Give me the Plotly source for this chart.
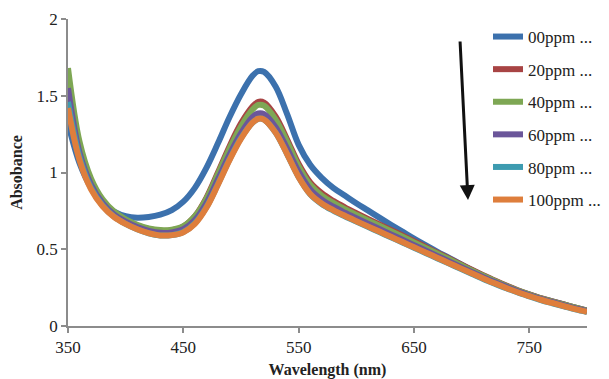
import plotly.graph_objects as go

wavelength = [350,360,370,380,390,400,410,420,430,440,450,460,470,480,490,500,510,515,520,530,540,550,560,570,580,590,600,610,620,630,640,650,660,670,680,690,700,710,720,730,740,750,760,770,780,790,800]

ppm00 = [1.32,1.06,0.90,0.80,0.745,0.715,0.705,0.71,0.725,0.755,0.81,0.90,1.03,1.19,1.36,1.51,1.63,1.66,1.655,1.56,1.38,1.18,1.05,0.965,0.90,0.85,0.80,0.753,0.706,0.66,0.615,0.57,0.527,0.485,0.445,0.405,0.365,0.328,0.293,0.26,0.23,0.205,0.18,0.16,0.14,0.12,0.10]
ppm20 = [1.60,1.16,0.94,0.81,0.735,0.69,0.655,0.632,0.62,0.624,0.648,0.715,0.835,1.0,1.17,1.32,1.43,1.46,1.455,1.365,1.215,1.055,0.935,0.865,0.815,0.773,0.735,0.698,0.662,0.626,0.59,0.553,0.515,0.478,0.441,0.404,0.367,0.331,0.296,0.263,0.233,0.206,0.181,0.16,0.14,0.12,0.10]
ppm40 = [1.68,1.20,0.96,0.825,0.745,0.695,0.66,0.636,0.625,0.628,0.65,0.715,0.83,0.99,1.155,1.30,1.41,1.44,1.435,1.345,1.20,1.04,0.92,0.85,0.802,0.761,0.724,0.688,0.653,0.618,0.582,0.545,0.508,0.472,0.436,0.399,0.362,0.327,0.293,0.261,0.231,0.205,0.18,0.159,0.139,0.119,0.10]
ppm60 = [1.55,1.13,0.92,0.80,0.725,0.68,0.645,0.62,0.607,0.61,0.63,0.69,0.80,0.955,1.115,1.255,1.36,1.385,1.38,1.295,1.155,1.005,0.89,0.823,0.777,0.738,0.702,0.667,0.632,0.597,0.562,0.527,0.492,0.457,0.422,0.387,0.352,0.318,0.286,0.255,0.226,0.2,0.176,0.155,0.135,0.115,0.097]
ppm80 = [1.46,1.10,0.90,0.785,0.712,0.665,0.63,0.604,0.59,0.592,0.612,0.67,0.775,0.925,1.085,1.225,1.325,1.35,1.345,1.26,1.12,0.97,0.858,0.795,0.752,0.715,0.68,0.646,0.612,0.578,0.544,0.51,0.476,0.442,0.408,0.374,0.34,0.307,0.276,0.246,0.218,0.193,0.169,0.148,0.128,0.108,0.091]
ppm100 = [1.42,1.08,0.89,0.78,0.71,0.665,0.63,0.605,0.59,0.592,0.61,0.665,0.77,0.92,1.08,1.22,1.325,1.35,1.345,1.26,1.12,0.97,0.86,0.798,0.755,0.718,0.683,0.649,0.615,0.581,0.547,0.513,0.479,0.445,0.411,0.377,0.343,0.31,0.278,0.248,0.22,0.195,0.171,0.15,0.13,0.11,0.093]

series_names = ["00ppm ...", "20ppm ...", "40ppm ...", "60ppm ...", "80ppm ...", "100ppm ..."]
series_values = [ppm00, ppm20, ppm40, ppm60, ppm80, ppm100]
colors = ["#3C71AD", "#A84444", "#7EA754", "#6B569A", "#3D9BB0", "#DE7E3C"]

x_ticks = [350, 450, 550, 650, 750]
y_ticks = [0, 0.5, 1, 1.5, 2]
y_tick_labels = ["0", "0.5", "1", "1.5", "2"]

FONT = "Liberation Serif, Times New Roman, serif"

# the page adds an 8px body margin, so the figure is sized to fit the window
W, H = 601, 371

fig = go.Figure()
for i, (name, vals, col) in enumerate(zip(series_names, series_values, colors)):
    fig.add_trace(go.Scatter(
        x=wavelength, y=vals, name=name, mode="lines",
        line=dict(color=col, width=6, shape="spline", smoothing=1.0),
        legendgroup=f"g{i}",
    ))

fig.update_layout(
    width=W, height=H,
    margin=dict(l=60, r=22, t=11, b=53, autoexpand=False),
    paper_bgcolor="white", plot_bgcolor="white",
    font=dict(family=FONT, size=17, color="#222222"),
    showlegend=True,
    legend=dict(
        x=480 / W, y=1 - 11 / H, xref="container", yref="container",
        xanchor="left", yanchor="top",
        bgcolor="rgba(0,0,0,0)", borderwidth=0,
        font=dict(family=FONT, size=17, color="#222222"),
        tracegroupgap=7.5, itemwidth=30, maxheight=400,
    ),
    xaxis=dict(
        range=[350, 800], tickmode="array", tickvals=x_ticks,
        showgrid=False, zeroline=False,
        showline=True, linecolor="#8C8C8C", linewidth=1.5,
        ticks="outside", ticklen=5, tickcolor="#8C8C8C", tickwidth=1.5,
        tickfont=dict(family=FONT, size=17, color="#222222"),
        title=dict(text="<b>Wavelength (nm)</b>", font=dict(family=FONT, size=16, color="#222222"), standoff=10),
    ),
    yaxis=dict(
        range=[0, 2], tickmode="array", tickvals=y_ticks, ticktext=y_tick_labels,
        showgrid=False, zeroline=False,
        showline=True, linecolor="#8C8C8C", linewidth=1.5,
        ticks="outside", ticklen=5, tickcolor="#8C8C8C", tickwidth=1.5,
        tickfont=dict(family=FONT, size=17, color="#222222"),
        title=dict(text="<b>Absobance</b>", font=dict(family=FONT, size=16, color="#222222"), standoff=11),
    ),
)

# downward arrow indicating decreasing absorbance
fig.add_annotation(
    xref="paper", yref="paper",
    x=(468 - 68) / 519, y=(326 - 200) / 307,
    ax=-8, ay=-160, axref="pixel", ayref="pixel",
    text="", showarrow=True,
    arrowhead=2, arrowsize=1.0, arrowwidth=3, arrowcolor="#111111",
)

fig.write_html("out.html")
